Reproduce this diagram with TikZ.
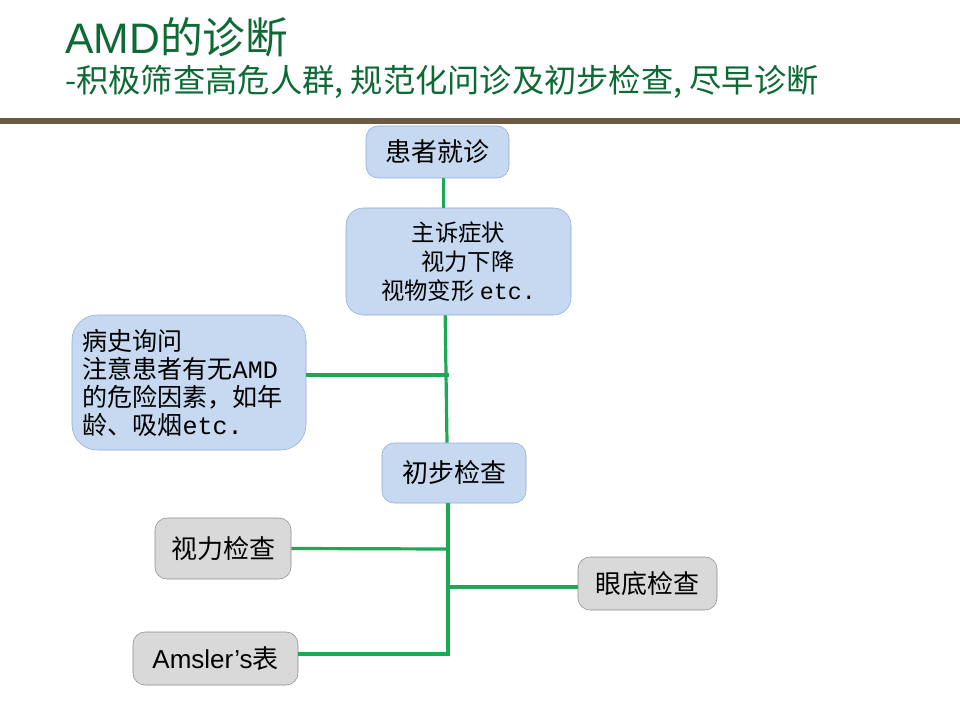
\documentclass[tikz,border=0pt]{standalone}
\usepackage{fontspec}
\setmainfont{Noto Sans CJK SC}
\setmonofont{Liberation Mono}
\newfontfamily\latinsans{Liberation Sans}
\usetikzlibrary{positioning}

\definecolor{titlegreen}{HTML}{0E6A35}
\definecolor{rulebrown}{HTML}{6B5A40}
\definecolor{linkgreen}{HTML}{1BA955}
\definecolor{bluefill}{HTML}{C6D9F1}
\definecolor{blueedge}{HTML}{8EABD8}
\definecolor{grayfill}{HTML}{D9D9D9}
\definecolor{grayedge}{HTML}{8C8C8C}

\begin{document}
\begin{tikzpicture}[
            x=0.75pt, y=-0.75pt,
            bluebox/.style={rectangle, draw=blueedge, fill=bluefill, rounded corners=9pt, align=center, inner sep=2pt},
            graybox/.style={rectangle, draw=grayedge, fill=grayfill, rounded corners=9pt, align=center, inner sep=2pt,
                            font=\fontsize{19.5}{23}\selectfont},
            link/.style={draw=linkgreen, line width=2.4pt}
        ]
        \useasboundingbox (0,0) rectangle (960,720);
        % title
        \node[anchor=west, text=titlegreen, font=\fontsize{32}{36}\selectfont, inner sep=0pt] (title) at (65,37) {{\latinsans AMD}的诊断};
        \node[anchor=west, text=titlegreen, font=\fontsize{24.2}{28}\selectfont, inner sep=0pt] (subtitle) at (65,82) {-积极筛查高危人群, 规范化问诊及初步检查, 尽早诊断};
        \fill[rulebrown] (0,118) rectangle (960,124);
        % blue boxes
        \node[bluebox, minimum width=107.25pt, minimum height=39pt, font=\fontsize{19.5}{23}\selectfont] (visit) at (437.5,152) {患者就诊};
        \node[bluebox, minimum width=168.75pt, minimum height=80.25pt, rounded corners=13pt, font=\fontsize{17.5}{21.75}\selectfont] (complaint) at (458.5,261.5) {主诉症状\\ \hspace*{0.8em}视力下降\\视物变形 \texttt{etc.}};
        \node[bluebox, minimum width=175.5pt, minimum height=101.25pt, rounded corners=19pt, align=left, text width=160pt, font=\fontsize{18.8}{21}\selectfont] (history) at (189,382.5) {病史询问\\注意患者有无\texttt{AMD}\\的危险因素，如年\\龄、吸烟\texttt{etc.}};
        \node[bluebox, minimum width=108pt, minimum height=45pt, font=\fontsize{19.5}{23}\selectfont] (prelim) at (454,473) {初步检查};
        % gray boxes
        \node[graybox, minimum width=102pt, minimum height=45.75pt] (acuity) at (223,548.5) {视力检查};
        \node[graybox, minimum width=104.25pt, minimum height=39.75pt] (fundus) at (647.5,583.5) {眼底检查};
        \node[graybox, minimum width=123.75pt, minimum height=39.75pt] (amsler) at (215.5,658.5) {{\latinsans Amsler’s}表};
        % junctions on the spine
        \coordinate (hj) at (449,375);
        \coordinate (aj) at (449,549);
        \coordinate (fj) at (448,587);
        \coordinate (mj) at (448,654);
        \draw[link] ([xshift=4.5pt]visit.south) -- ([xshift=4.5pt]visit.south |- complaint.north);
        \draw[link] ([xshift=-10pt]complaint.south) -- ([xshift=-5.25pt]prelim.north);
        \draw[link] (history.east |- hj) -- (hj);
        \draw[link] ([xshift=-4.5pt]prelim.south) -- (mj) -- (amsler.east |- mj);
        \draw[link] (acuity.east) -- (aj);
        \draw[link] (fj) -- (fundus.west |- fj);
        \end{tikzpicture}
\end{document}
